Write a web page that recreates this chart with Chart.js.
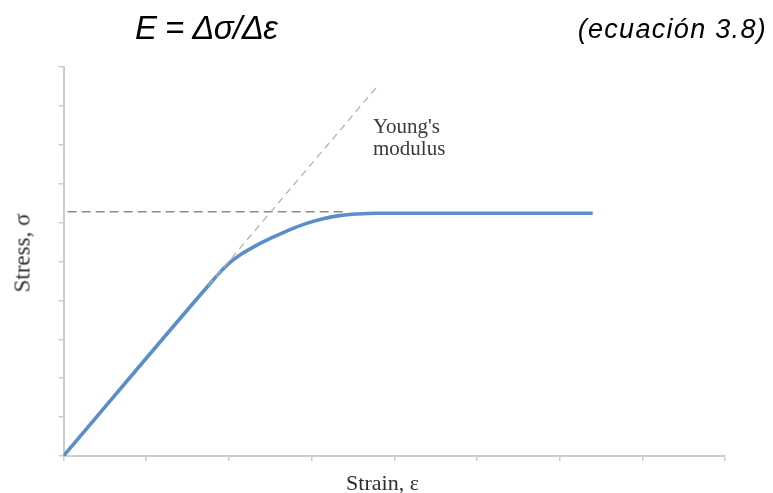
<!DOCTYPE html>
<html>
<head>
<meta charset="utf-8">
<script src="https://cdn.jsdelivr.net/npm/chart.js@4"></script>
<style>
  html, body { margin: 0; padding: 0; background: #fff; }
  #wrap { position: relative; width: 773px; height: 493px; }
  #chart { position: absolute; left: 0; top: 0; }
  .lbl { position: absolute; white-space: nowrap; line-height: 1; }
  .eq { font-family: "Liberation Sans", Arial, sans-serif; font-style: italic; color: #000; }
  .serif { font-family: "Liberation Serif", "Times New Roman", serif; color: #2e2e2e; }
</style>
</head>
<body>
<div id="wrap">
  <canvas id="chart" width="773" height="493"></canvas>
  <div class="lbl eq" style="left:135px; top:11px; font-size:33px; letter-spacing:-0.6px;">E = Δσ/Δε</div>
  <div class="lbl eq" style="right:6px; top:16px; font-size:27px; letter-spacing:1.3px;">(ecuación 3.8)</div>
  <div class="lbl serif" style="left:373px; top:115px; font-size:21px; line-height:22px; color:#3a3a3a;">Young's<br>modulus</div>
  <div class="lbl serif" style="left:382.5px; top:471.6px; font-size:22px; transform:translateX(-50%);">Strain, ε</div>
  <div class="lbl serif" style="left:22px; top:253px; font-size:23px; transform:translate(-50%,-50%) rotate(-90deg);">Stress, σ</div>
</div>
<script>
// stress-strain curve (arbitrary units)
const strain = [0, 1.8, 1.9, 2.0, 2.13, 2.34, 2.54, 2.74, 2.94, 3.14, 3.34, 3.55, 3.8, 6.4];
const stress = [0, 4.5, 4.74, 4.95, 5.16, 5.42, 5.63, 5.82, 5.98, 6.1, 6.18, 6.22, 6.24, 6.24];

// yield level, dashed
const yieldX = [0.05, 3.38];
const yieldY = [6.28, 6.28];

// tangent to the elastic part (Young's modulus)
const tangentX = [1.75, 3.79];
const tangentY = [4.38, 9.49];

const toPoints = (xs, ys) => xs.map((x, i) => ({ x: x, y: ys[i] }));

const axisColor = '#cdcdcd';

new Chart(document.getElementById('chart'), {
    type: 'line',
    data: {
        datasets: [{
            data: toPoints(tangentX, tangentY),
            borderColor: '#b3b3b3',
            borderWidth: 1.3,
            borderDash: [7, 5],
            pointRadius: 0
        }, {
            data: toPoints(yieldX, yieldY),
            borderColor: '#8c8c8c',
            borderWidth: 1.6,
            borderDash: [9, 5],
            pointRadius: 0
        }, {
            data: toPoints(strain, stress),
            borderColor: '#5b8dca',
            borderWidth: 3.6,
            cubicInterpolationMode: 'monotone',
            pointRadius: 0
        }]
    },
    options: {
        responsive: false,
        animation: false,
        layout: {
            padding: { left: 58.5, top: 67, right: 48, bottom: 32 }
        },
        plugins: {
            legend: { display: false },
            tooltip: { enabled: false }
        },
        scales: {
            x: {
                type: 'linear',
                min: 0,
                max: 8,
                ticks: { display: false, stepSize: 1 },
                grid: { drawOnChartArea: false, drawTicks: true, tickLength: 5, color: axisColor, lineWidth: 1.5 },
                border: { display: true, color: axisColor, width: 2 }
            },
            y: {
                min: 0,
                max: 10,
                ticks: { display: false, stepSize: 1 },
                grid: { drawOnChartArea: false, drawTicks: true, tickLength: 5, color: axisColor, lineWidth: 1.5 },
                border: { display: true, color: axisColor, width: 2 }
            }
        }
    }
});
</script>
</body>
</html>
